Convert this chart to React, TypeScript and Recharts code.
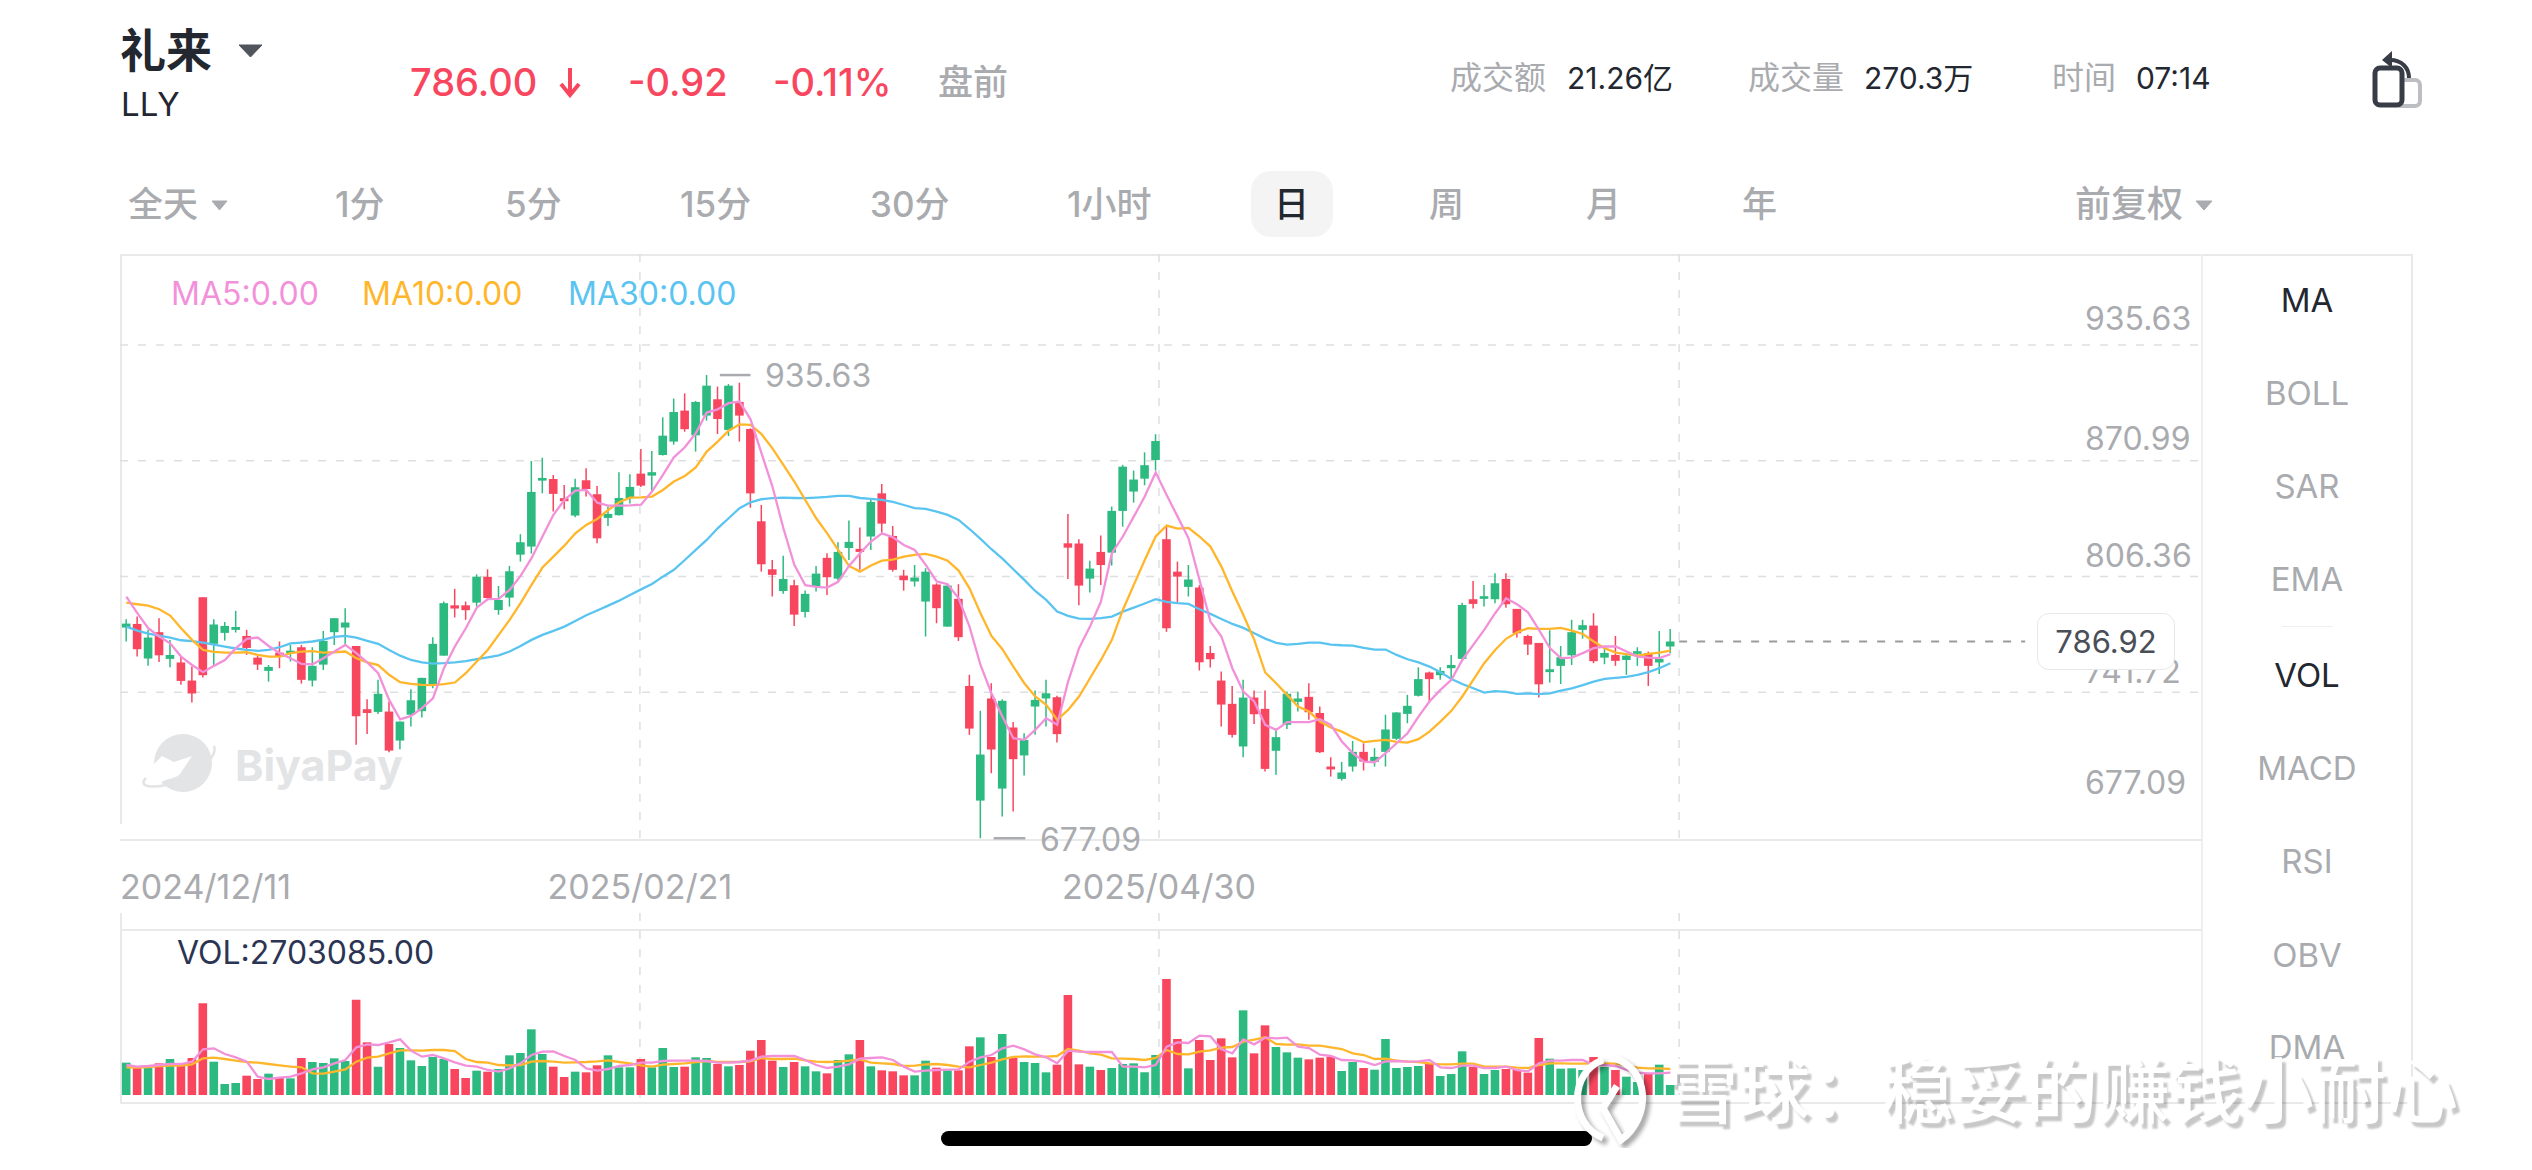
import React from 'react';
import { ComposedChart, Bar, Line, XAxis, YAxis, CartesianGrid, Cell, ReferenceLine } from 'recharts';

const highs = [799.3,800.8,793.4,799.9,787.8,778.5,772.9,811.6,799.3,797.8,804,793.4,778.9,773.8,786.9,785,785,783.7,792.8,799.9,805.5,784.4,754.7,765.5,753.4,742.2,760.3,766.6,789.3,809.2,816.3,809.2,824.4,827.2,817.9,829.1,846.8,887.7,889.5,879.9,874.3,877.8,883.6,873.7,862.2,881.4,880.2,894.4,893.3,912,922.5,925.4,921.2,935.63,929.2,930.6,931.4,905.9,863.1,832.4,834.7,821.3,815.3,829.1,836.2,842.3,854.4,850.5,865.9,874.8,851.4,826.9,829.6,827.8,819.4,818.9,818.9,768.3,748.2,763.6,754.7,741.9,735.7,759.5,765.5,756.6,858.1,844,832,846,862.2,885.5,882.3,892.5,902.6,851,831.5,829.6,818.3,784.4,770.1,762.1,765.5,759.5,759.5,738.5,759,758.8,763.6,750.6,722.3,719.7,731.4,730.1,727.4,746,747.4,757.1,772.5,770.1,772.5,779.4,808.6,820.7,818.5,825,825,805.1,790.6,786.1,793.2,784.4,799,799,802.7,783.2,790,779.4,783.7,781.3,792.8,793.9];
const lows = [786.9,778.5,773.3,775.5,772.5,762.7,752.8,766.8,773.8,787.4,791.9,779.4,771,764.5,772,775.7,763.4,761.8,771,785,785,729.2,735.3,746.5,725.1,726.8,739.4,744.5,760.8,779,800.3,799,806.4,810.5,801.8,806.4,831.5,836,869.6,859.4,860.7,856.2,867.8,841.7,851.4,857.2,864,873.2,870.6,890.7,896.8,904,892.9,910.2,902.7,901.6,898.5,861.6,825.9,812,813.5,795.6,800.3,814.8,812.9,820.9,832.4,826.9,838,847.7,825.9,815.3,817.6,789.7,797.1,795.2,787.2,734.8,677.09,713.4,689.2,692,712.1,734.8,739.4,730.5,821.8,807.1,814.2,818.5,829.3,851,864.4,874.1,882.3,792.3,808.3,812,770.7,772.4,739.4,733.3,722.3,740.9,714.3,712.5,738.1,747.8,743.2,724.6,711.5,709.3,714.3,714.9,717.1,717.1,732,741.3,756.2,753.4,765.5,765.5,777,805.3,806.4,808.3,805.8,789.1,779.4,755.6,764,763.2,773.8,788.5,774.8,774.2,773.3,768.3,773.3,762.1,768.8,780.4];
const opens = [794.7,796.7,777.4,792.1,777.2,775.2,765.1,811.6,785.6,791.7,793.4,790,777.9,770.5,780.7,780.4,783.7,765.1,774,792.1,794.7,784.4,749.1,747.6,747.8,731.6,746,748,762.7,779,807.1,807.1,808.6,823,804.5,811.4,835.4,839.9,876.7,877.6,866.9,857.2,876.9,869.1,855.9,857.4,866.9,880.6,879.5,891,898.5,915.8,902,913,922.1,905,920.6,905.5,854,827.2,815.1,818.3,803.4,817.6,833.6,822,839.1,838.6,845.5,869.6,845.8,823.7,820.4,809.2,818.7,795.2,810.7,762.1,698.1,755.1,704.8,738.9,723.3,750.6,755.1,755.8,841.7,841.6,822,836.9,836.5,859.8,870.6,877.8,888.2,844,825.9,817.4,817,780.5,765.1,752.1,728.3,755.6,749.3,725.9,740.4,753.2,756,747,717.1,710.2,717.1,725.3,719.7,725.3,732.6,746.5,756.6,769.6,768.1,772,777.2,810.5,810.7,810.5,821.8,805.1,790,786.1,769.8,773.3,779.2,793.4,795.8,777.9,779.4,776.6,780,780.4,775.2,784.1];
const closes = [796.9,782.6,789.1,779.2,779.4,764.9,757.9,768.1,796.4,795.6,795,783.3,774,772.7,778.5,781.8,765.5,773.3,787.2,799.9,797.5,745.2,747,757.7,726,742.2,754.1,766.6,785.6,808.3,805.3,804.4,823.1,811.2,810.1,826.1,842.3,870.4,878.2,869.3,865.2,873,872,844.5,858.1,867,873.2,873.9,881.4,901.8,915,905.4,920.6,929.7,911.1,929.7,913,869.6,830,824.1,821.8,801.9,813.5,824.8,822.8,836.9,842.5,836.9,864.8,852.7,826.9,821.1,822.6,825.9,805.5,818.1,789.3,738.3,723.8,726.6,753.8,721.2,732,754.3,758,735.2,839.3,818.1,827.6,829.6,859.8,884.5,877.3,885.3,898.8,794.3,823.1,821.5,775.3,777,751.7,734.8,755.6,746.3,715.8,733.5,757.7,755.1,747.4,725.1,715.5,713.8,725.3,719.9,722.5,737.8,747.3,751,765.9,765.9,770.5,773.8,807.3,807.9,812.2,819.4,807.7,791.5,785.2,763,771.4,778.1,792.1,796,775.9,780.5,776.1,779,781.5,773.3,777.2,786.92];
const ma5 = [812,802.7,794.3,789.7,785.9,778.5,773.8,769.8,773.3,776.6,783.2,788.4,789.1,784.4,780.4,777.6,774.4,774.2,777.6,781.3,785,780.4,775.2,769.2,754.3,743.5,745.4,749.7,755.2,772,784.1,794.3,805.8,810.5,810.7,815.7,823.5,833.4,845.5,857.6,865.9,871.1,871.5,864.4,862.8,862.8,862.9,863.3,870.6,879.9,889.7,895.3,903.1,914.7,916.5,919.9,920.8,910.9,892,873.4,850.1,829.7,818.3,817.4,817,820.2,829.1,836.2,842.7,847.3,845.1,840.8,838,829.7,820.4,818.9,811,795.2,773.8,758,745,732.9,732,737.6,744.1,740.4,764.5,783.2,795.2,809.2,836.2,845.5,856.6,867.8,881.2,868.7,856.6,844.5,821.3,798,789.7,772,759,753.4,740.4,737.6,741.9,741.9,741.9,743.5,740.4,731.1,724.6,719.9,719.5,724.6,730.1,735.7,745,753.4,759.9,765.5,776.6,785,793.4,802.7,811,807.7,803.2,793.4,783.2,777.6,777.9,780.4,783.2,784.1,784.1,781.3,778.5,777.9,777.6,779.8];
const ma10 = [808.6,807.7,806.9,804.9,801.4,794.3,787.8,782.2,781.1,780.7,780.7,780.9,779.4,778.5,778.5,780.4,781.3,781.5,780.7,780.9,781.3,777.6,775.2,773.7,768.3,764.2,763.2,762.7,762.5,763.1,764,769.2,775.7,782.2,790.6,799,808.3,818.5,828.2,834.3,840.4,847.3,852,855.3,860.3,864.6,867.2,867.4,867.8,871.5,876.2,879.3,884.1,892.9,898.5,904.6,908.1,907.8,902.7,894.7,885.5,876.2,865.9,855.7,847.3,838,829.1,825.9,829.3,832,832.6,834.3,835.2,835.8,834.3,832,826.5,816.6,802.7,790,782.6,772.9,763.6,756.2,751.5,743.2,748.7,756.2,766.4,776.6,787.8,804.5,818.5,832.4,845.5,851.6,849.9,850.3,845.5,839.9,828.7,814.8,801.8,787.8,769.6,763.6,757.1,750.6,747.8,742.2,738.9,736.6,733.5,730.7,731.4,732,730.9,730.5,732.4,736.6,742.2,748.2,756.2,765.5,774.8,782.2,788.4,792.1,794.3,793.9,793.9,794.5,793,791.1,786.9,783.2,780.7,779.8,779,780,780.7,781.8];
const ma30 = [795.2,793,791.3,790.2,789.1,787.6,787.1,786.3,785.2,784.1,783,782.2,781.7,782.2,783.7,785.8,786.3,786.9,788,789.5,790,789.1,787.2,785.6,782.2,779,776.6,775.2,774.6,774.8,775.2,775.9,777,778.1,779.2,781.3,784.4,787.8,790.6,792.8,795.2,798.4,801.6,804.2,806.9,809.7,812.9,816,819,823.1,826.9,832.4,838,843.6,850.1,855.7,861.3,864.6,866.3,866.9,867.2,867,866.9,867.2,867.6,868.2,868.2,867,866.5,865.9,864.8,863.1,861.4,860.9,859.4,857.6,854.8,849.7,844.2,838.4,833.2,827.2,821.3,815.1,810.1,803.6,801.2,799.7,799.5,799.9,800.8,803.6,805.8,808.1,810.5,809,808.3,807.9,804.9,802.3,799.5,796.7,794.5,791.5,788.5,786.1,785.2,785.6,786.3,786.3,785.2,784.8,784.6,783.3,782.4,782.4,779.4,777,775.2,772.9,769.8,766,763.2,760.8,758.4,759.2,758.8,757.7,757.9,757.5,758,759.5,760.8,762.5,764.5,766,766.6,767.2,768.3,769.8,772,774.8];
// volume in 10k shares
const volumes = [291,246,246,285,324,279,333,825,300,99,108,174,144,192,156,150,333,297,288,330,306,858,474,255,459,423,312,261,342,324,234,153,219,210,234,357,378,591,369,255,162,210,204,267,357,249,249,324,249,423,252,255,339,333,279,258,270,399,495,309,252,297,258,213,195,315,366,495,258,222,213,177,177,309,246,222,222,438,519,342,549,333,297,288,204,273,900,276,255,225,243,279,285,204,360,1044,504,240,495,315,510,339,762,375,627,432,384,336,321,336,345,216,297,243,228,504,243,252,261,285,171,189,393,252,189,225,234,225,201,513,327,237,240,225,342,252,225,165,117,195,273,90];
const volMa5 = [270,255,261,270,279,279,300,411,420,369,339,300,165,144,156,165,195,231,249,285,315,429,456,450,474,501,399,345,360,330,294,264,255,225,210,240,285,360,390,393,351,315,240,219,234,261,270,291,291,306,309,309,309,306,291,291,297,309,345,351,351,351,315,270,243,255,276,327,333,339,315,255,210,219,225,228,231,300,339,360,420,444,411,366,339,285,399,390,387,387,387,255,255,249,270,435,474,468,534,528,411,375,501,456,516,510,516,435,423,363,351,315,312,300,270,303,306,300,303,315,249,243,264,264,243,243,255,225,213,285,309,309,315,315,270,270,261,225,201,195,195,201];
const volMa10 = [249,246,252,261,264,264,276,330,336,324,309,297,291,279,267,255,249,195,192,210,231,300,336,345,375,402,402,399,405,405,396,324,297,291,270,267,270,300,306,300,291,294,297,303,312,297,285,267,255,273,279,285,297,306,297,297,297,303,333,324,324,327,312,300,297,300,309,321,291,285,279,261,264,276,279,270,255,249,270,291,321,342,348,345,345,351,414,399,375,363,330,327,324,315,333,405,369,366,390,402,426,432,480,498,519,459,453,456,444,444,429,414,375,360,324,327,309,300,297,285,276,276,282,282,255,255,255,246,243,270,285,285,282,282,285,285,282,270,246,240,240,234];

const dateLabels = ['2024/12/11', '2025/02/21', '2025/04/30', ''];
const dateTicks = [-0.58, 46.9, 94.3, 141.8];
const gridPrices = [952.4, 887.8, 823.2, 758.6];
const axisLabels = ['935.63', '870.99', '806.36', '741.72', '677.09'];
const indicators = ['MA', 'BOLL', 'SAR', 'EMA', 'VOL', 'MACD', 'RSI', 'OBV', 'DMA'];

const rows = highs.map((high, i) => ({
  idx: i,
  high,
  low: lows[i],
  open: opens[i],
  close: closes[i],
  range: [lows[i], high],
  ma5: ma5[i],
  ma10: ma10[i],
  ma30: ma30[i],
  volume: volumes[i],
  volMa5: volMa5[i],
  volMa10: volMa10[i],
}));

const GREEN = '#2DBA80';
const RED = '#F8465F';
const GREY = '#A9ABAF';
const DARK = '#23272F';
const LINE = '#E9E9EA';
const FONT = 'Inter, "Noto Sans CJK SC", sans-serif';
const X_DOMAIN = [-0.58, 189.55];

const Txt = ({ x, y, size, color = GREY, weight = 400, anchor = 'left', spacing = 0, children }: any) => (
  <div
    style={{
      position: 'absolute',
      left: x,
      top: y,
      transform: anchor === 'center' ? 'translate(-50%,-50%)' : 'translateY(-50%)',
      fontSize: size,
      lineHeight: 1,
      color,
      fontWeight: weight,
      letterSpacing: spacing,
      whiteSpace: 'nowrap',
    }}
  >
    {children}
  </div>
);

const Rule = ({ x, y, w, h, color = LINE }: any) => (
  <div style={{ position: 'absolute', left: x, top: y, width: w, height: h, background: color }} />
);

const Caret = ({ x, y, w, h, color = GREY }: any) => (
  <svg style={{ position: 'absolute', left: x, top: y }} width={w} height={h}>
    <path d={`M1 1 L${w - 1} 1 L${w / 2} ${h} Z`} fill={color} stroke={color} strokeLinejoin="round" />
  </svg>
);

const Candle = (props: any) => {
  const { x, y, width, height, payload } = props;
  const { high, low, open, close } = payload;
  const unit = height / (high - low);
  const color = close >= open ? GREEN : RED;
  const top = y + (high - Math.max(open, close)) * unit;
  const bodyH = Math.max(Math.abs(open - close) * unit, 2);
  return (
    <g>
      <line x1={x + width / 2} x2={x + width / 2} y1={y} y2={y + height} stroke={color} strokeWidth={1.5} />
      <rect x={x} y={top} width={width} height={bodyH} fill={color} />
    </g>
  );
};

const DateTick = ({ x, y, index }: any) => (
  <text
    x={x}
    y={y + 38}
    textAnchor={index === 0 ? 'start' : 'middle'}
    dominantBaseline="central"
    fontSize={34}
    fill={GREY}
    fontFamily={FONT}
  >
    {dateLabels[index] ?? ''}
  </text>
);

const PriceChart = () => (
  <ComposedChart
    width={2082}
    height={676}
    data={rows}
    margin={{ top: 0, right: 0, bottom: 0, left: 0 }}
    style={{ position: 'absolute', left: 120, top: 254 }}
  >
    <CartesianGrid
      strokeDasharray="8 10"
      stroke="#DEDFE1"
      strokeWidth={1.5}
      horizontalValues={gridPrices}
      verticalValues={dateTicks.slice(1)}
    />
    <XAxis
      dataKey="idx"
      type="number"
      domain={X_DOMAIN}
      allowDataOverflow
      ticks={dateTicks}
      interval={0}
      axisLine={false}
      tickLine={false}
      height={90}
      tick={<DateTick />}
    />
    <YAxis hide type="number" domain={[676.1, 1003.2]} allowDataOverflow ticks={gridPrices} />
    <Bar dataKey="range" barSize={8.6} shape={<Candle />} isAnimationActive={false} />
    <Line dataKey="ma30" type="linear" stroke="#5AC4F0" strokeWidth={2.3} dot={false} isAnimationActive={false} />
    <Line dataKey="ma10" type="linear" stroke="#FFB62B" strokeWidth={2.3} dot={false} isAnimationActive={false} />
    <Line dataKey="ma5" type="linear" stroke="#F291DA" strokeWidth={2.3} dot={false} isAnimationActive={false} />
    <ReferenceLine
      segment={[{ x: 141.8, y: 786.92 }, { x: 173.4, y: 786.92 }]}
      stroke="#9A9B9E"
      strokeWidth={2}
      strokeDasharray="8 10"
    />
    <ReferenceLine segment={[{ x: 54.2, y: 935.63 }, { x: 57, y: 935.63 }]} stroke={GREY} strokeWidth={2.5} />
    <ReferenceLine segment={[{ x: 79.2, y: 677.09 }, { x: 82.1, y: 677.09 }]} stroke={GREY} strokeWidth={2.5} />
  </ComposedChart>
);

const VolumeChart = () => (
  <ComposedChart
    width={2082}
    height={185}
    data={rows}
    margin={{ top: 0, right: 0, bottom: 0, left: 0 }}
    style={{ position: 'absolute', left: 120, top: 913 }}
  >
    <CartesianGrid
      strokeDasharray="8 10"
      stroke="#DEDFE1"
      strokeWidth={1.5}
      horizontal={false}
      verticalValues={dateTicks.slice(1)}
    />
    <XAxis hide dataKey="idx" type="number" domain={X_DOMAIN} allowDataOverflow ticks={dateTicks} />
    <YAxis hide type="number" domain={[-27, 1638]} allowDataOverflow />
    <Bar dataKey="volume" barSize={8.6} isAnimationActive={false}>
      {rows.map((r) => (
        <Cell key={r.idx} fill={r.close >= r.open ? GREEN : RED} />
      ))}
    </Bar>
    <Line dataKey="volMa10" type="linear" stroke="#FFB62B" strokeWidth={2.3} dot={false} isAnimationActive={false} />
    <Line dataKey="volMa5" type="linear" stroke="#F291DA" strokeWidth={2.3} dot={false} isAnimationActive={false} />
  </ComposedChart>
);

const BiyaLogo = () => (
  <svg style={{ position: 'absolute', left: 140, top: 730 }} width={110} height={70}>
    <circle cx={43} cy={33} r={29} fill="#E3E4E6" />
    <path d="M6 48 C-4 58 18 60 40 50 C60 42 78 26 74 16" fill="none" stroke="#E3E4E6" strokeWidth={2.5} />
    <path d="M22 26 L34 32 L52 26 L40 44 C34 50 24 48 20 54 L4 44 Z" fill="#FFFFFF" />
  </svg>
);

const RotateIcon = () => (
  <svg style={{ position: 'absolute', left: 2368, top: 48 }} width={56} height={62}>
    <rect x={28} y={32} width={24} height={26} rx={5} fill="none" stroke="#BDBEC1" strokeWidth={4} />
    <rect x={7} y={20} width={27} height={37} rx={5} fill="#FFFFFF" stroke="#383C46" strokeWidth={5} />
    <path d="M22 12 C34 12 41 20 41 30" fill="none" stroke="#383C46" strokeWidth={4} />
    <path d="M24 3 L14 12 L24 20 Z" fill="#383C46" />
  </svg>
);

const XueqiuMark = () => (
  <svg style={{ position: 'absolute', left: 1555, top: 1048 }} width={110} height={100}>
    <g fill="none" strokeWidth={7}>
      <path d="M48 12 C14 24 14 76 48 90" stroke="#FFFFFF" style={{ filter: 'drop-shadow(4px 4px 2px rgba(0,0,0,.35))' }} />
      <path d="M58 10 C96 20 96 70 66 92 L48 60 L62 38" stroke="#FFFFFF" style={{ filter: 'drop-shadow(4px 4px 2px rgba(0,0,0,.35))' }} />
    </g>
  </svg>
);

export default function App() {
  const axisY = [318.5, 439, 556, 672, 782.5];
  const indicatorY = [300, 393, 486, 579, 675, 768, 861, 955, 1047];
  return (
    <div style={{ position: 'absolute', left: 0, top: 0, width: 2532, height: 1170, background: '#FFFFFF', overflow: 'hidden', fontFamily: FONT }}>
      {/* header */}
      <Txt x={120} y={50} size={46} color={DARK} weight={700}>礼来</Txt>
      <Caret x={238} y={44} w={25} h={13} color="#50545C" />
      <Txt x={121} y={104} size={33} color={DARK}>LLY</Txt>
      <Txt x={410} y={82} size={38} color={RED} weight={500}>786.00</Txt>
      <svg style={{ position: 'absolute', left: 558, top: 66 }} width={24} height={32}>
        <path d="M12 2 L12 28 M3 18 L12 29 L21 18" fill="none" stroke={RED} strokeWidth={4} />
      </svg>
      <Txt x={628} y={82} size={38} color={RED} weight={500}>-0.92</Txt>
      <Txt x={773} y={82} size={38} color={RED} weight={500}>-0.11%</Txt>
      <Txt x={938} y={82} size={35} weight={500}>盘前</Txt>
      <Txt x={1450} y={78} size={32}>成交额</Txt>
      <Txt x={1567} y={78} size={30} color={DARK}>21.26亿</Txt>
      <Txt x={1748} y={78} size={32}>成交量</Txt>
      <Txt x={1864} y={78} size={30} color={DARK}>270.3万</Txt>
      <Txt x={2052} y={78} size={32}>时间</Txt>
      <Txt x={2136} y={78} size={30} color={DARK}>07:14</Txt>
      <RotateIcon />

      {/* period tabs */}
      <Txt x={128} y={204} size={35} weight={500}>全天</Txt>
      <Caret x={211} y={200} w={17} h={10} />
      <Txt x={335} y={204} size={35} weight={500}>1分</Txt>
      <Txt x={505} y={204} size={35} weight={500}>5分</Txt>
      <Txt x={680} y={204} size={35} weight={500}>15分</Txt>
      <Txt x={870} y={204} size={35} weight={500}>30分</Txt>
      <Txt x={1067} y={204} size={35} weight={500}>1小时</Txt>
      <div style={{ position: 'absolute', left: 1251, top: 171, width: 82, height: 66, borderRadius: 20, background: '#F4F4F5' }} />
      <Txt x={1274} y={204} size={35} color={DARK} weight={500}>日</Txt>
      <Txt x={1429} y={204} size={35} weight={500}>周</Txt>
      <Txt x={1586} y={204} size={35} weight={500}>月</Txt>
      <Txt x={1742} y={204} size={35} weight={500}>年</Txt>
      <Txt x={2075} y={204} size={36} weight={500}>前复权</Txt>
      <Caret x={2195} y={200} w={18} h={10} />

      {/* panel frame */}
      <Rule x={120} y={254} w={2292} h={2} />
      <Rule x={120} y={254} w={2} h={570} />
      <Rule x={2201} y={254} w={2} h={850} color="#EFEFF0" />
      <Rule x={2411} y={254} w={2} h={850} />
      <Rule x={120} y={839} w={2082} h={2} />
      <Rule x={120} y={929} w={2082} h={2} />
      <Rule x={120} y={913} w={2} h={191} />
      <Rule x={120} y={1102} w={2292} h={2} />
      <Rule x={2282} y={626} w={51} h={1} color="#EFEFF0" />

      <BiyaLogo />
      <Txt x={235} y={765} size={43} color="#E3E4E6" weight={700}>BiyaPay</Txt>

      <PriceChart />
      <VolumeChart />

      {/* legend and labels */}
      <Txt x={171} y={294} size={32} color="#F291DA">MA5:0.00</Txt>
      <Txt x={362} y={294} size={32} color="#FFB62B">MA10:0.00</Txt>
      <Txt x={568} y={294} size={32} color="#5AC4F0">MA30:0.00</Txt>
      <Txt x={177} y={953} size={32} color="#2B3553">VOL:2703085.00</Txt>
      {axisLabels.map((label, i) => (
        <Txt key={label} x={2085} y={axisY[i]} size={32}>{label}</Txt>
      ))}
      <Txt x={765} y={376} size={32}>935.63</Txt>
      <Txt x={1040} y={840} size={32}>677.09</Txt>
      <div
        style={{
          position: 'absolute',
          left: 2037,
          top: 613,
          width: 136,
          height: 55,
          border: '1.5px solid #E8E8EA',
          borderRadius: 12,
          background: '#FFFFFF',
          display: 'flex',
          alignItems: 'center',
          justifyContent: 'center',
          fontSize: 31,
          color: '#4A4E57',
        }}
      >
        786.92
      </div>

      {/* indicator list */}
      {indicators.map((name, i) => (
        <Txt
          key={name}
          x={2307}
          y={indicatorY[i]}
          size={33}
          anchor="center"
          color={name === 'MA' || name === 'VOL' ? DARK : GREY}
        >
          {name}
        </Txt>
      ))}

      {/* screenshot chrome */}
      <div style={{ position: 'absolute', left: 941, top: 1131, width: 651, height: 15, borderRadius: 8, background: '#000000' }} />
      <XueqiuMark />
      <div
        style={{
          position: 'absolute',
          left: 1666,
          top: 1055,
          fontSize: 72,
          lineHeight: 1,
          fontWeight: 500,
          color: '#FFFFFF',
          whiteSpace: 'nowrap',
          textShadow: '4px 5px 2px rgba(0,0,0,.22)',
        }}
      >
        雪球：稳妥的赚钱小耐心
      </div>
    </div>
  );
}
